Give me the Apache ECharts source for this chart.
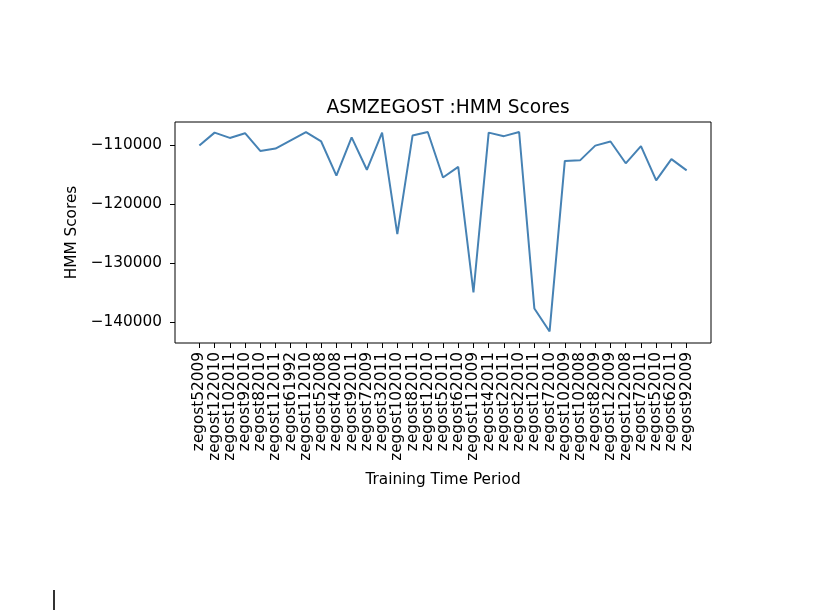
<!DOCTYPE html>
<html><head><meta charset="utf-8">
<script src="https://cdn.jsdelivr.net/npm/echarts@6/dist/echarts.min.js"></script>
<style>html,body{margin:0;padding:0;background:#fff}#c{width:824px;height:610px}</style>
</head><body><div id="c"></div>
<script>
const categories = ["zegost52009","zegost122010","zegost102011","zegost92010","zegost82010","zegost112011","zegost61992","zegost112010","zegost52008","zegost42008","zegost92011","zegost72009","zegost32011","zegost102010","zegost82011","zegost12010","zegost52011","zegost62010","zegost112009","zegost42011","zegost22011","zegost22010","zegost12011","zegost72010","zegost102009","zegost102008","zegost82009","zegost122009","zegost122008","zegost72011","zegost52010","zegost62011","zegost92009"];
const scores = [-110100,-107900,-108800,-108000,-111000,-110600,-109200,-107800,-109400,-115200,-108700,-114200,-107900,-125100,-108400,-107800,-115500,-113700,-135000,-107900,-108500,-107800,-137700,-141600,-112700,-112600,-110100,-109400,-113100,-110200,-116000,-112400,-114300];
const yTicks = [-140000,-130000,-120000,-110000];

const xIdx = categories.map((_, i) => i);
const seriesData = scores.map((v, i) => [i, v]);
const font = 'DejaVu Sans';
const chart = echarts.init(document.getElementById('c'));
chart.setOption({
  animation: false,
  backgroundColor: '#fff',
  title: {text: 'ASMZEGOST :HMM Scores', left: 443, top: 94, textAlign: 'center',
    textStyle: {fontFamily: font, fontSize: 18.6, fontWeight: 'normal', color: '#000'}},
  grid: {left: 175, right: 113, top: 122, bottom: 267, show: true, borderColor: '#000', borderWidth: 1, backgroundColor: 'transparent'},
  xAxis: {type: 'value', min: -1.6, max: 33.6,
    name: 'Training Time Period', nameLocation: 'middle', nameGap: 130,
    nameTextStyle: {fontFamily: font, fontSize: 15.3, color: '#000'},
    axisLine: {show: false, onZero: false}, splitLine: {show: false},
    axisTick: {show: true, length: 5, customValues: xIdx, lineStyle: {color: '#000', width: 1}},
    axisLabel: {customValues: xIdx, rotate: 90, margin: 9, fontFamily: font, fontSize: 15.3, color: '#000',
      formatter: v => categories[Math.round(v)] || ''}
  },
  yAxis: {type: 'value', min: -143560, max: -106100,
    name: 'HMM Scores', nameLocation: 'middle', nameGap: 94, nameRotate: 90,
    nameTextStyle: {fontFamily: font, fontSize: 15.3, color: '#000'},
    axisLine: {show: false, onZero: false}, splitLine: {show: false},
    axisTick: {show: true, length: 5, customValues: yTicks, lineStyle: {color: '#000', width: 1}},
    axisLabel: {customValues: yTicks, margin: 13, fontFamily: font, fontSize: 15.3, color: '#000',
      formatter: v => (v < 0 ? '\u2212' + Math.abs(v) : String(v))}
  },
  series: [{type: 'line', data: seriesData, symbol: 'none', lineStyle: {color: '#4682b4', width: 2}}],
  graphic: [{type: 'rect', shape: {x: 53, y: 590, width: 2, height: 20}, style: {fill: '#333'}}]
});
</script></body></html>
